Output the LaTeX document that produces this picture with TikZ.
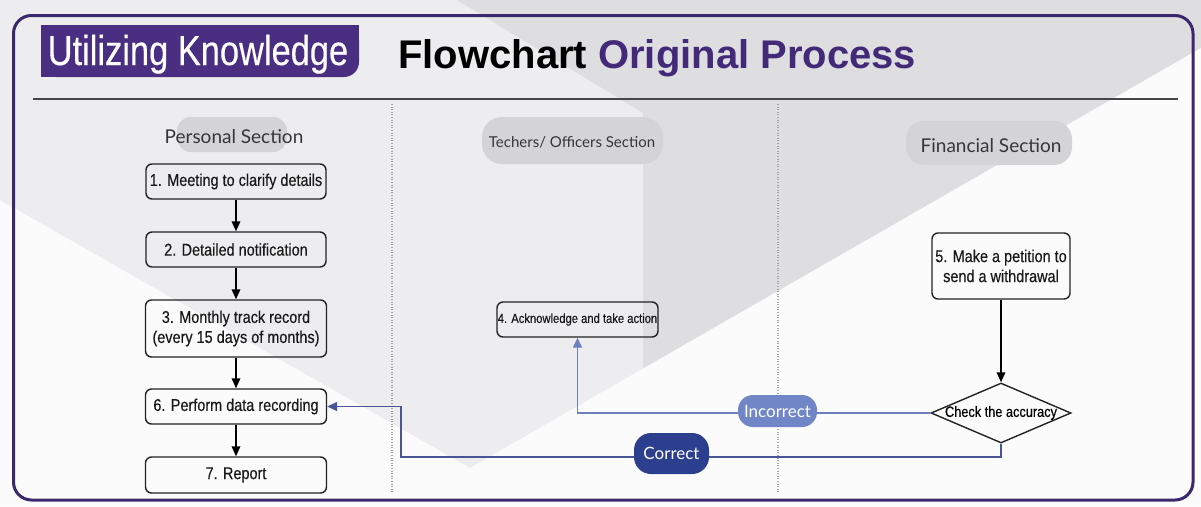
\documentclass[tikz,border=0pt]{standalone}
\usepackage{fontspec}
\setmainfont{Liberation Sans}
\newfontfamily\boxfont{Liberation Sans}[FakeStretch=0.85,FakeBold=0.35]
\newfontfamily\badgefont{Liberation Sans}[FakeStretch=0.82,FakeBold=0.3]
\newfontfamily\lanefont{Lato}
\usetikzlibrary{arrows.meta,shapes.geometric}

\definecolor{framepurple}{RGB}{58,40,108}
\definecolor{badgepurple}{RGB}{74,46,130}
\definecolor{titlepurple}{RGB}{66,42,120}
\definecolor{bglight}{RGB}{237,237,239}
\definecolor{bgdark}{RGB}{222,222,225}
\definecolor{bgwhite}{RGB}{251,251,252}
\definecolor{lanepill}{RGB}{212,212,215}
\definecolor{laneink}{RGB}{55,55,58}
\definecolor{boxline}{RGB}{35,35,35}
\definecolor{noline}{RGB}{108,128,192}
\definecolor{nofill}{RGB}{112,134,198}
\definecolor{yesline}{RGB}{72,86,150}
\definecolor{yesfill}{RGB}{44,62,142}
\definecolor{rulegray}{RGB}{70,70,72}
\definecolor{divider}{RGB}{165,165,168}

\begin{document}
\begin{tikzpicture}[x=1pt,y=-1pt,
  stepbox/.style={draw=boxline,line width=1.4pt,rounded corners=6pt,inner sep=0pt,
    align=center,text=black!90,font={\boxfont\fontsize{17}{20}\selectfont}},
  smallbox/.style={stepbox,font={\boxfont\fontsize{13.2}{15}\selectfont}},
  decision/.style={draw=boxline,line width=1.4pt,shape=diamond,inner sep=0pt,
    minimum width=140pt,minimum height=60pt,font={\boxfont\fontsize{15}{17}\selectfont}},
  flow/.style={-{Triangle[length=10pt,width=8.5pt]},line width=1.8pt,black},
  noflow/.style={-{Triangle[length=10pt,width=9pt]},line width=1.3pt,noline},
  yesflow/.style={-{Triangle[length=10pt,width=9pt]},line width=1.4pt,yesline},
  lanebg/.style={fill=lanepill,rounded corners=14pt,inner sep=0pt},
  lanetext/.style={anchor=base,inner sep=0pt,text=laneink},
  pill/.style={rounded corners=15pt,inner sep=0pt,text=white,
    font={\lanefont\fontsize{17}{19}\selectfont}},
  lanediv/.style={divider,line width=1.2pt,dash pattern=on 1pt off 1.6pt},
]
\useasboundingbox (0,0) rectangle (1201,506);

% backdrop: light field, darker folded band, white lower wedge
\fill[bglight] (0,0) rectangle (1201,506);
\fill[bgdark] (457,0) -- (643,113) -- (643,372) -- (1201,48) -- (1201,0) -- cycle;
\fill[bgwhite] (0,200) -- (470,468) -- (1201,48) -- (1201,506) -- (0,506) -- cycle;

% outer frame
\draw[framepurple,line width=3pt,rounded corners=18pt] (13.5,15.5) rectangle (1193,500);

% heading badge, rounded only at its lower right corner
\fill[badgepurple] (41,25) rectangle (359,55);
\fill[badgepurple] (41,25) rectangle (200,77);
\node[fill=badgepurple,rounded corners=15pt,minimum width=318pt,minimum height=52pt,inner sep=0pt]
  (badge) at (200,51) {};
\node[anchor=base,inner sep=0pt,text=white,font={\badgefont\fontsize{42}{44}\selectfont}]
  (badgetitle) at (198,65) {Utilizing Knowledge};
\node[anchor=base west,inner sep=0pt,font={\bfseries\fontsize{40}{43}\selectfont}]
  (title) at (398,68) {Flowchart \textcolor{titlepurple}{Original Process}};

% rule under the heading and lane dividers
\draw[rulegray,line width=1.5pt] (33,99) -- (1178,99);
\draw[lanediv] (392,104) -- (392,492);
\draw[lanediv] (778,104) -- (778,492);

% lane headings
\node[lanebg,minimum width=110pt,minimum height=35pt] (pbg) at (232,134.5) {};
\node[lanetext,font={\lanefont\fontsize{19}{21}\selectfont}] (plabel) at (234,143) {Personal Section};
\node[lanebg,minimum width=181pt,minimum height=47pt,rounded corners=20pt] (tbg) at (572.5,140.5) {};
\node[lanetext,font={\lanefont\fontsize{15}{17}\selectfont}] (tlabel) at (572,147.5) {Techers/ Officers Section};
\node[lanebg,minimum width=166pt,minimum height=44pt,rounded corners=18pt] (fbg) at (989,143) {};
\node[lanetext,font={\lanefont\fontsize{19}{21}\selectfont}] (flabel) at (991,152) {Financial Section};

% process steps
\node[stepbox,minimum width=180pt,minimum height=35pt] (s1) at (236,181.5) {1. Meeting to clarify details};
\node[stepbox,minimum width=180pt,minimum height=35pt] (s2) at (236,249.5) {2. Detailed notification};
\node[stepbox,minimum width=181pt,minimum height=57pt] (s3) at (236,328.5) {3. Monthly track record\\(every 15 days of months)};
\node[stepbox,minimum width=181pt,minimum height=35pt] (s6) at (236,406.5) {6. Perform data recording};
\node[stepbox,minimum width=181pt,minimum height=36pt] (s7) at (236,475) {7. Report};
\node[smallbox,minimum width=161pt,minimum height=35pt] (s4) at (577.5,319.5) {4. Acknowledge and take action};
\node[stepbox,minimum width=138pt,minimum height=66pt] (s5) at (1001,266) {5. Make a petition to\\send a withdrawal};
\node[decision] (chk) at (1001,413) {\makebox[0pt]{Check the accuracy}};

% main flow
\draw[flow] (s1) -- (s2);
\draw[flow] (s2) -- (s3);
\draw[flow] (s3) -- (s6);
\draw[flow] (s6) -- (s7);
\draw[flow] (s5) -- (chk);

% decision outcomes
\coordinate (cturn) at (401,457);
\draw[noflow] (chk.west) -| (s4.south);
\draw[yesflow] (chk.south) |- (cturn) |- (s6.east);
\node[pill,fill=nofill,minimum width=79pt,minimum height=32pt] (no) at (777.5,411) {Incorrect};
\node[pill,fill=yesfill,minimum width=75pt,minimum height=41pt,rounded corners=17pt] (yes) at (671.5,453.5) {Correct};
\end{tikzpicture}
\end{document}
